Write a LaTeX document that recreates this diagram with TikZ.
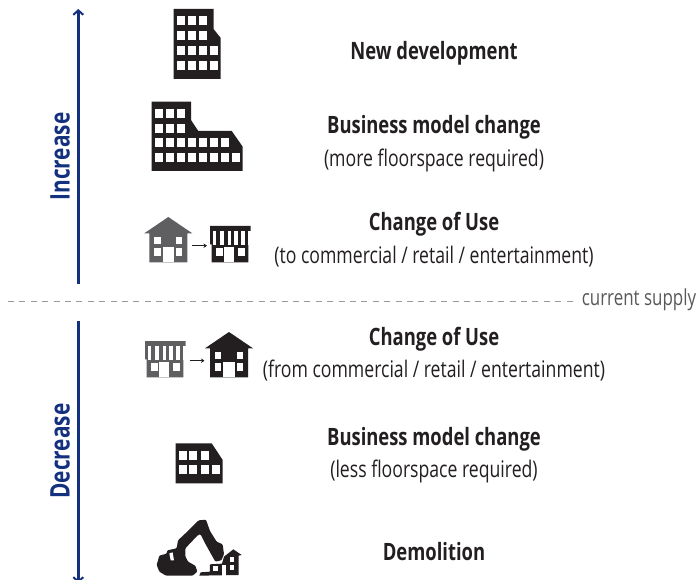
\documentclass[tikz,border=0pt]{standalone}
\usepackage{fontspec}
\usetikzlibrary{arrows.meta}
\newfontfamily\condreg[FakeStretch=0.77]{Open Sans}
\newfontfamily\condbold[FakeStretch=0.77]{Open Sans}
\definecolor{ink}{HTML}{231F20}
\definecolor{mid}{HTML}{5F5F62}
\definecolor{navy}{HTML}{14317F}
\definecolor{dashgray}{HTML}{9A9A9A}
\definecolor{labelgray}{HTML}{58595B}
\tikzset{
  head/.style={font=\condbold\bfseries\fontsize{23.9}{27}\selectfont,text=ink,inner sep=0pt,anchor=center},
  sub/.style={font=\condreg\fontsize{22.9}{27}\selectfont,text=ink,inner sep=0pt,anchor=center},
  side/.style={font=\condbold\bfseries\fontsize{27}{31}\selectfont,text=navy,inner sep=0pt,rotate=90,anchor=center},
  axis/.style={draw=navy,line width=2.4pt},
  tipped/.style={-{Straight Barb[length=4.5pt,width=10pt,line width=2pt]}},
  small arrow/.style={draw=#1,line width=0.9pt,-{Stealth[length=3.5pt,width=4.5pt]}},
  win/.style={fill=white},
}
% house: origin at apex x, bottom y
\newcommand{\houseicon}[3]{%
\begin{scope}[shift={(#1,#2)}]
\fill[#3] (0,-45.3) -- (24,-29) -- (19,-29) -- (19,0) -- (-19,0) -- (-19,-29) -- (-24,-29) -- cycle;
\fill[win] (-5.6,0) rectangle (6,-15.6);
\foreach \xx in {-14,7.7}\foreach \yy in {-25.6,-14}\fill[win] (\xx,\yy) rectangle ++(6.4,7.4);
\end{scope}}
% shop: origin at left of awning, bottom y
\newcommand{\shopicon}[3]{%
\begin{scope}[shift={(#1,#2)}]
\fill[#3] (0,-36.3) -- (40.7,-36.3) -- (40.7,-18) -- (38.3,-18) -- (38.3,0) -- (1.7,0) -- (1.7,-18) -- (0,-18) -- cycle;
\foreach \xx in {3.3,10.4,17.5,24.4,31.4,38}\fill[win] (\xx,-31) rectangle ++(3.1,13.4);
\fill[win] (13.7,0) rectangle (23.7,-15);
\foreach \xx in {6,28.3}\fill[win] (\xx,-14) rectangle ++(6.6,7.4);
\end{scope}}
\begin{document}
\begin{tikzpicture}[x=1pt,y=-1pt]
\useasboundingbox (0,0) rectangle (699,580);
\fill[white] (0,0) rectangle (699,580);
% axes
\coordinate (upstart) at (78.3,283.5);
\coordinate (uptip) at (78.3,9);
\coordinate (downstart) at (78.3,321);
\coordinate (downtip) at (78.3,583);
\path[axis,draw,tipped] (upstart) -- (uptip);
\path[axis,draw,tipped] (downstart) -- (downtip);
\node[side] (increase) at (60,156.5) {Increase};
\node[side] (decrease) at (60,451) {Decrease};
% dashed line
\coordinate (dashstart) at (8,301);
\node[font=\condreg\fontsize{22}{25}\selectfont,text=labelgray,inner sep=0pt,anchor=center] (supply) at (639,300) {current supply};
\draw[dashgray,line width=1pt,dash pattern=on 6pt off 5.4pt] (dashstart) -- ([xshift=-7pt]supply.west |- dashstart);
% texts
\node[head] (t1) at (434,53) {New development};
\node[head] (t2) at (434,127) {Business model change};
\node[sub] (t2b) at (434,160) {(more floorspace required)};
\node[head] (t3) at (434,224) {Change of Use};
\node[sub] (t3b) at (434,257) {(to commercial / retail / entertainment)};
\node[head] (t4) at (434,339) {Change of Use};
\node[sub] (t4b) at (434,371) {(from commercial / retail / entertainment)};
\node[head] (t5) at (434,439) {Business model change};
\node[sub] (t5b) at (434,471) {(less floorspace required)};
\node[head] (t6) at (434,552) {Demolition};
% building 1
\fill[ink] (173.5,9) -- (213.5,9) -- (213.5,29) -- (220.7,38) -- (220.7,79) -- (173.5,79) -- cycle;
\foreach \yy in {16.5,31.5}\foreach \xx in {176.7,187.7,199}\fill[win] (\xx,\yy) rectangle ++(8,9);
\foreach \yy in {46.5,61}\foreach \xx in {176.7,187.7,199,210}\fill[win] (\xx,\yy) rectangle ++(8,9);
% building 2
\fill[ink] (151.7,101.7) -- (191,101.7) -- (191,120) -- (198.3,131) -- (231.7,131) -- (242.7,146.7) -- (242.7,171) -- (151.7,171) -- cycle;
\foreach \yy in {109,123.7}\foreach \xx in {155,165.7,176.7}\fill[win] (\xx,\yy) rectangle ++(8,9);
\foreach \xx in {155,165.7,176.7,187.7,199,210,221}\fill[win] (\xx,138.3) rectangle ++(8,9);
\foreach \xx in {155,165.7,176.7,187.7,199,210,221,232}\fill[win] (\xx,153.3) rectangle ++(8,9);
% change of use up
\houseicon{168.3}{262.3}{mid}
\shopicon{210}{262.3}{ink}
\coordinate (a1s) at (192,245.7); \coordinate (a1e) at (207,245.7);
\draw[small arrow=ink] (a1s) -- (a1e);
% change of use down
\shopicon{145}{377.3}{mid}
\houseicon{229}{377.3}{ink}
\coordinate (a2s) at (189.7,360.7); \coordinate (a2e) at (204.5,360.7);
\draw[small arrow=ink] (a2s) -- (a2e);
% small building
\fill[ink] (175.7,443.3) -- (211.7,443.3) -- (222.7,460) -- (222.7,483.3) -- (175.7,483.3) -- cycle;
\foreach \xx in {178.7,189.3,200.7}\fill[win] (\xx,450.7) rectangle ++(8,9);
\foreach \xx in {178.7,189.3,200.7,211.7}\fill[win] (\xx,465) rectangle ++(8,9);
% excavator and ruin
\begin{scope}[shift={(150,515)},x=0.3333pt,y=-0.3333pt]
\fill[ink,rounded corners=1pt] (20,150) -- (28,122) -- (50,116) -- (52,106) -- (80,100) -- (84,76) -- (118,44) -- (146,16) -- (168,14) -- (180,48) -- (200,80) -- (218,88) -- (222,118) -- (214,136) -- (196,140) -- (186,122) -- (168,90) -- (152,58) -- (144,60) -- (106,100) -- (106,124) -- (114,140) -- (136,152) -- (142,170) -- (128,182) -- (48,182) -- (28,170) -- cycle;
\fill[white] (58,115) -- (68,112) -- (72,136) -- (62,136) -- cycle;
\fill[ink] (148,182) -- (152,172) -- (180,170) -- (180,148) -- (216,146) -- (222,125) -- (250,103) -- (275,120) -- (266,122) -- (266,180) -- cycle;
\fill[white] (190,152) -- (204,152) -- (204,168) -- (190,168) -- cycle;
\fill[white] (240,150) -- (253,150) -- (253,165) -- (240,165) -- cycle;
\fill[white] (240,125) -- (253,125) -- (253,140) -- (240,140) -- cycle;
\fill[white] (216,150) -- (228,150) -- (228,182) -- (216,182) -- cycle;
\end{scope}
\end{tikzpicture}
\end{document}
